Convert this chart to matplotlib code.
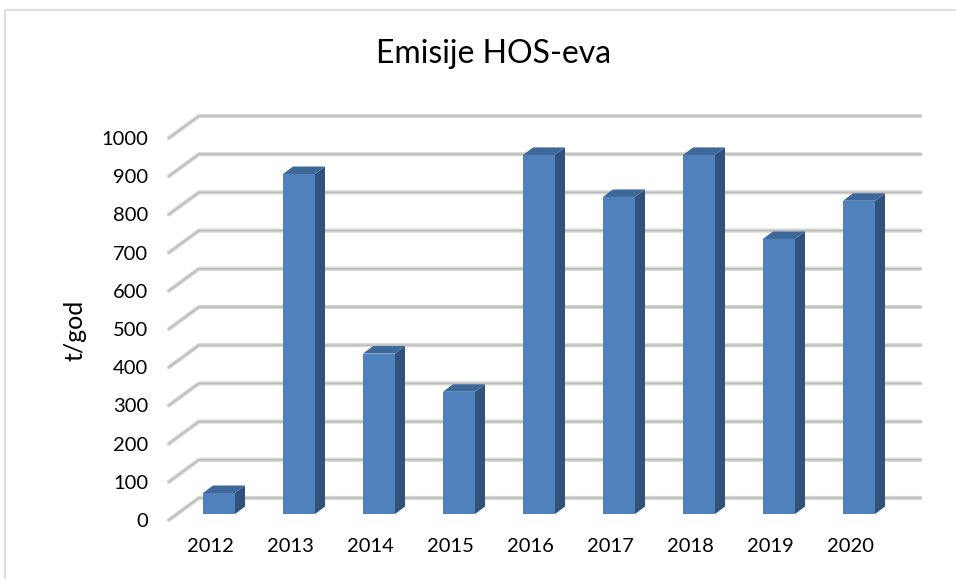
import matplotlib.pyplot as plt
from matplotlib.patches import Polygon, Rectangle

years = ['2012', '2013', '2014', '2015', '2016', '2017', '2018', '2019', '2020']
emisije = [55, 890, 420, 320, 940, 830, 940, 720, 820]
y_ticks = list(range(0, 1001, 100))

W, H = 956, 579
# pixel scale of the fake 3d plane (front edge)
PX_X = 80.0
PX_V = 0.382
X0, V0 = 210.5, 520.0


def px2x(px):
    return (px - X0) / PX_X


def px2v(py):
    return (V0 - py) / PX_V


plt.rcParams['font.family'] = ['Lato', 'DejaVu Sans']

fig = plt.figure(figsize=(W / 100, H / 100), dpi=100)
left, right, top, bottom = 160, 940, 100, 530
ax = fig.add_axes([left / W, 1 - bottom / H, (right - left) / W, (bottom - top) / H])
ax.set_xlim(px2x(left), px2x(right))
ax.set_ylim(px2v(bottom), px2v(top))

n = len(years)
# back wall depth
DX = 30 / PX_X
DV = 22 / PX_V
# bar placement inside the depth and bar depth
BS_X = 8.5 / PX_X
BS_V = 6 / PX_V
BW = 0.4
BD_X = 10 / PX_X
BD_V = 7.5 / PX_V

# gridlines: diagonal on the side + line on back wall
for v in y_ticks:
    xs = [-0.52, -0.52 + DX, n - 0.5 + DX]
    ys = [v, v + DV, v + DV]
    ax.plot(xs, ys, color='#d6d6d6', lw=3.0, clip_on=False, zorder=1,
            solid_capstyle='round', solid_joinstyle='round')
    ax.plot(xs, ys, color='#bcbcbc', lw=1.0, clip_on=False, zorder=1.1,
            solid_joinstyle='round')

# bars
for i, val in enumerate(emisije):
    x0 = i + BS_X - BW / 2
    x1 = x0 + BW
    y0 = BS_V
    y1 = BS_V + val
    ax.add_patch(Rectangle((x0, y0), BW, val, fc='#4f81bd', ec='none', zorder=3))
    ax.add_patch(Polygon([(x1, y0), (x1 + BD_X, y0 + BD_V), (x1 + BD_X, y1 + BD_V), (x1, y1)],
                         closed=True, fc='#30527c', ec='none', zorder=3))
    ax.add_patch(Polygon([(x0, y1), (x0 + BD_X, y1 + BD_V), (x1 + BD_X, y1 + BD_V), (x1, y1)],
                         closed=True, fc='#3d6899', ec='none', zorder=3))

ax.set_yticks(y_ticks)
ax.set_yticklabels([str(t) for t in y_ticks])
ax.set_xticks(range(n))
ax.set_xticklabels(years)
ax.tick_params(axis='y', length=0, pad=8.6, labelsize=14.5)
ax.tick_params(axis='x', length=0, pad=6, labelsize=14.5)
for s in ax.spines.values():
    s.set_visible(False)
ax.set_facecolor('none')

fig.text(494 / W, 1 - 54 / H, 'Emisije HOS-eva', ha='center', va='center', fontsize=23)
fig.text(75 / W, 1 - 330 / H, 't/god', rotation=90, ha='center', va='center', fontsize=18)

# chart frame
fig.add_artist(Rectangle((5 / W, -0.05), 1.0, 1.05 - 10 / H, transform=fig.transFigure,
                         fill=False, ec='#d9d9d9', lw=1.2))

fig.savefig('out.png', dpi=100)
